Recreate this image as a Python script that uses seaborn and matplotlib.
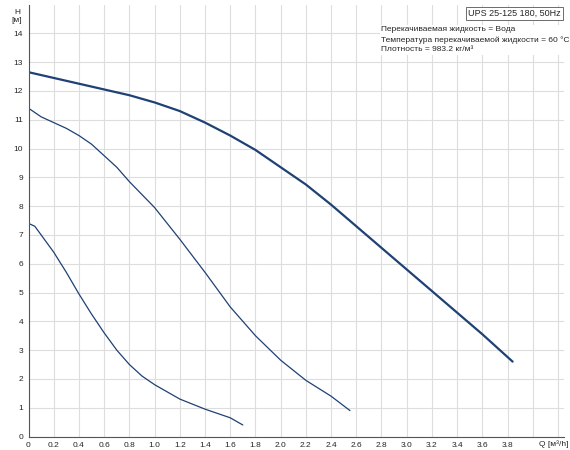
import matplotlib
matplotlib.use("Agg")
import matplotlib.pyplot as plt
import seaborn as sns
import pandas as pd

sns.set_style("white")
plt.rcParams['font.family'] = ['Liberation Sans', 'DejaVu Sans']

q_high = [0, 0.2, 0.4, 0.6, 0.8, 1.0, 1.2, 1.4, 1.6, 1.8, 2.0, 2.2, 2.4, 2.6, 2.8, 3.0, 3.2, 3.4, 3.6, 3.84]
h_high = [12.65, 12.45, 12.25, 12.05, 11.85, 11.6, 11.3, 10.9, 10.45, 9.95, 9.35, 8.75, 8.05, 7.3, 6.55, 5.8, 5.05, 4.3, 3.55, 2.6]
q_mid = [0, 0.1, 0.2, 0.3, 0.4, 0.5, 0.6, 0.7, 0.8, 1.0, 1.2, 1.4, 1.6, 1.8, 2.0, 2.2, 2.4, 2.55]
h_mid = [11.4, 11.1, 10.9, 10.7, 10.45, 10.15, 9.75, 9.35, 8.85, 7.95, 6.85, 5.7, 4.5, 3.5, 2.65, 1.95, 1.4, 0.9]
q_low = [0, 0.05, 0.1, 0.2, 0.3, 0.4, 0.5, 0.6, 0.7, 0.8, 0.9, 1.0, 1.2, 1.4, 1.6, 1.7]
h_low = [7.4, 7.3, 7.0, 6.4, 5.7, 4.95, 4.25, 3.6, 3.0, 2.5, 2.1, 1.8, 1.3, 0.95, 0.65, 0.4]

color = "#1f4173"
fig, ax = plt.subplots(figsize=(5.7, 4.5), dpi=100)
fig.subplots_adjust(left=0.05, right=0.99, bottom=0.03, top=0.99)
sns.lineplot(data=pd.DataFrame({"q": q_high, "h": h_high}), x="q", y="h", ax=ax, color=color, lw=1.6)
sns.lineplot(data=pd.DataFrame({"q": q_mid, "h": h_mid}), x="q", y="h", ax=ax, color=color, lw=0.9)
sns.lineplot(data=pd.DataFrame({"q": q_low, "h": h_low}), x="q", y="h", ax=ax, color=color, lw=0.9)

ax.set_xlim(0, 4.25)
ax.set_ylim(0, 15)
xt = [i * 0.2 for i in range(22)]
ax.set_xticks(xt)
ax.set_xticklabels(["0"] + [f"{v:.1f}" for v in xt[1:20]] + ["", ""], fontsize=6)
ax.set_yticks(range(15))
ax.set_yticklabels([str(i) for i in range(15)], fontsize=6)
ax.tick_params(length=2, pad=2)
ax.grid(True, color="#dddddd", lw=0.8)
ax.set_xlabel(""); ax.set_ylabel("")
for s in ["top", "right"]:
    ax.spines[s].set_visible(False)
for s in ["left", "bottom"]:
    ax.spines[s].set_color("#555555")
ax.text(4.05, -0.27, "Q [м³/h]", fontsize=6, va="center", ha="left")
ax.text(-0.09, 14.6, "H\n[м]", fontsize=6, ha="center", va="center")
ax.text(4.22, 14.85, "UPS 25-125 180, 50Hz", fontsize=6.5, ha="right", va="top",
        bbox=dict(facecolor="white", edgecolor="#555555", lw=0.6, pad=1.5))
ax.text(2.8, 14.25, "Перекачиваемая жидкость = Вода\nТемпература перекачиваемой жидкости = 60 °C\nПлотность = 983.2 кг/м³",
        fontsize=6, ha="left", va="top", linespacing=1.5,
        bbox=dict(facecolor="white", edgecolor="none", pad=1))
fig.savefig("out.png", dpi=100)
